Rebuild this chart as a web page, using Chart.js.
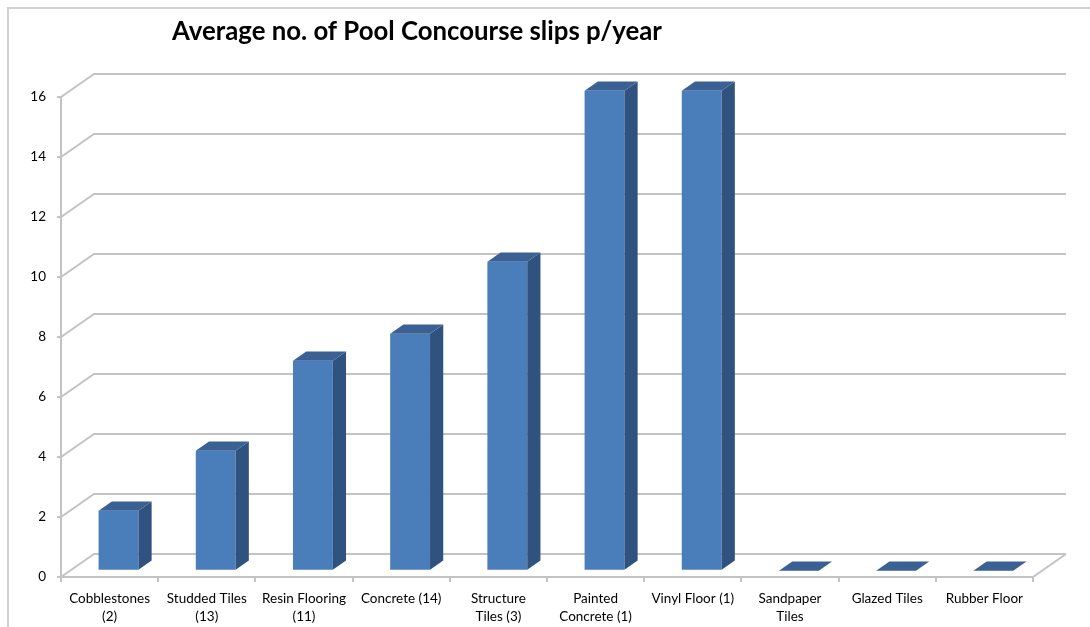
<!DOCTYPE html>
<html>
<head>
<meta charset="utf-8">
<title>Pool Concourse slips</title>
<script src="https://cdn.jsdelivr.net/npm/chart.js@4.4.1/dist/chart.umd.min.js"></script>
<style>
  html, body { margin: 0; padding: 0; background: #fff; }
  #wrap { width: 1090px; height: 627px; }
</style>
</head>
<body>
<div id="wrap"><canvas id="slipsChart" width="1090" height="627"></canvas></div>
<script>
// ---------------------------------------------------------------
// Data
// ---------------------------------------------------------------
const TITLE = "Average no. of Pool Concourse slips p/year";

const floorTypes = [
  ["Cobblestones", "(2)"],
  ["Studded Tiles", "(13)"],
  ["Resin Flooring", "(11)"],
  "Concrete (14)",
  ["Structure", "Tiles (3)"],
  ["Painted", "Concrete (1)"],
  "Vinyl Floor (1)",
  ["Sandpaper", "Tiles"],
  "Glazed Tiles",
  "Rubber Floor",
];

const avgSlips = [2, 4, 7, 7.9, 10.3, 16, 16, 0, 0, 0];

const yTicks = [0, 2, 4, 6, 8, 10, 12, 14, 16];

// ---------------------------------------------------------------
// Look
// ---------------------------------------------------------------
const GRID   = "#c3c3c3";
const FRAME  = "#d2d2d2";
const TEXT   = "#000";
const FONT   = "Lato, 'Liberation Sans', sans-serif";

const BAR_FRONT = "#4a7ebb";
const BAR_SIDE  = "#30527f";
const BAR_TOP   = "#3b6194";

// depth of the floor / back wall, and where the bars sit inside it
const DEPTH     = { x: 33, y: -23 };
const BAR_NEAR  = 0.27;
const BAR_FAR   = 0.67;

const at = (f) => ({ x: DEPTH.x * f, y: DEPTH.y * f });

// ---------------------------------------------------------------
// Plugins
// ---------------------------------------------------------------

// white page + the light outline round the chart
const chartFrame = {
  id: "chartFrame",
  beforeDraw(chart) {
    const { ctx, width, height } = chart;
    ctx.save();
    ctx.fillStyle = "#fff";
    ctx.fillRect(0, 0, width, height);
    ctx.strokeStyle = FRAME;
    ctx.lineWidth = 2;
    ctx.beginPath();
    ctx.moveTo(8, height);
    ctx.lineTo(8, 8);
    ctx.lineTo(width, 8);
    ctx.stroke();
    ctx.restore();
  },
};

// slanted gridlines running back onto the rear wall
const wallGrid = {
  id: "wallGrid",
  beforeDatasetsDraw(chart) {
    const { ctx, chartArea: a, scales: { y } } = chart;
    ctx.save();
    ctx.strokeStyle = GRID;
    ctx.lineWidth = 2;
    y.ticks.forEach((t) => {
      const py = y.getPixelForValue(t.value);
      ctx.beginPath();
      ctx.moveTo(a.left, py);
      ctx.lineTo(a.left + DEPTH.x, py + DEPTH.y);
      ctx.lineTo(a.right + DEPTH.x, py + DEPTH.y);
      ctx.stroke();
    });
    // right edge of the floor
    const base = y.getPixelForValue(0);
    ctx.beginPath();
    ctx.moveTo(a.right, base);
    ctx.lineTo(a.right + DEPTH.x, base + DEPTH.y);
    ctx.stroke();
    ctx.restore();
  },
};

// push the bar fronts into the floor, then add side + top faces
const bars3d = {
  id: "bars3d",
  beforeDatasetDraw(chart) {
    const near = at(BAR_NEAR);
    chart.ctx.save();
    chart.ctx.translate(near.x, near.y);
  },
  afterDatasetDraw(chart, args) {
    const { ctx } = chart;
    const d = at(BAR_FAR - BAR_NEAR);
    args.meta.data.forEach((bar) => {
      const { x, y, base, width } = bar.getProps(["x", "y", "base", "width"], true);
      const left = x - width / 2;
      const right = x + width / 2;

      // side
      ctx.fillStyle = BAR_SIDE;
      ctx.beginPath();
      ctx.moveTo(right, y);
      ctx.lineTo(right + d.x, y + d.y);
      ctx.lineTo(right + d.x, base + d.y);
      ctx.lineTo(right, base);
      ctx.closePath();
      ctx.fill();

      // top
      ctx.fillStyle = BAR_TOP;
      ctx.beginPath();
      ctx.moveTo(left, y);
      ctx.lineTo(left + d.x, y + d.y);
      ctx.lineTo(right + d.x, y + d.y);
      ctx.lineTo(right, y);
      ctx.closePath();
      ctx.fill();
    });
    ctx.restore();
  },
};

// chart heading, left-set above the plot
const heading = {
  id: "heading",
  afterDraw(chart) {
    const { ctx } = chart;
    ctx.save();
    ctx.font = `bold 22px ${FONT}`;
    const size = 22 * 490 / ctx.measureText(TITLE).width;
    ctx.font = `bold ${size.toFixed(2)}px ${FONT}`;
    ctx.fillStyle = "#000";
    ctx.textBaseline = "middle";
    ctx.textAlign = "left";
    ctx.fillText(TITLE, 172, 32);
    ctx.restore();
  },
};

// ---------------------------------------------------------------
// Chart
// ---------------------------------------------------------------
new Chart(document.getElementById("slipsChart").getContext("2d"), {
  type: "bar",
  data: {
    labels: floorTypes,
    datasets: [{
      data:               avgSlips,
      backgroundColor:    BAR_FRONT,
      borderWidth:        0,
      barPercentage:      0.41,
      categoryPercentage: 1,
    }],
  },
  options: {
    responsive: false,
    animation:  false,
    layout: { padding: { top: 97, right: 57, left: 0, bottom: 0 } },
    plugins: {
      legend:  { display: false },
      tooltip: { enabled: false },
      title:   { display: false },
    },
    scales: {
      x: {
        offset: true,
        grid: {
          offset:          true,
          drawOnChartArea: false,
          tickLength:      5,
          color:           GRID,
          lineWidth:       2,
        },
        border: { display: true, color: GRID, width: 2 },
        ticks: {
          color:       TEXT,
          font:        { family: FONT, size: 13.5, lineHeight: 1.3 },
          padding:     8,
          maxRotation: 0,
          autoSkip:    false,
        },
        afterFit: (s) => { s.height = 50; },
      },
      y: {
        min: 0,
        max: 16,
        afterBuildTicks: (s) => { s.ticks = yTicks.map((v) => ({ value: v })); },
        grid: {
          drawOnChartArea: false,
          tickLength:      4,
          color:           GRID,
          lineWidth:       2,
        },
        border: { display: true, color: GRID, width: 2 },
        ticks: {
          color:   TEXT,
          font:    { family: FONT, size: 13.5 },
          padding: 11,
        },
        afterFit: (s) => { s.width = 61; },
      },
    },
  },
  plugins: [chartFrame, wallGrid, bars3d, heading],
});
</script>
</body>
</html>
